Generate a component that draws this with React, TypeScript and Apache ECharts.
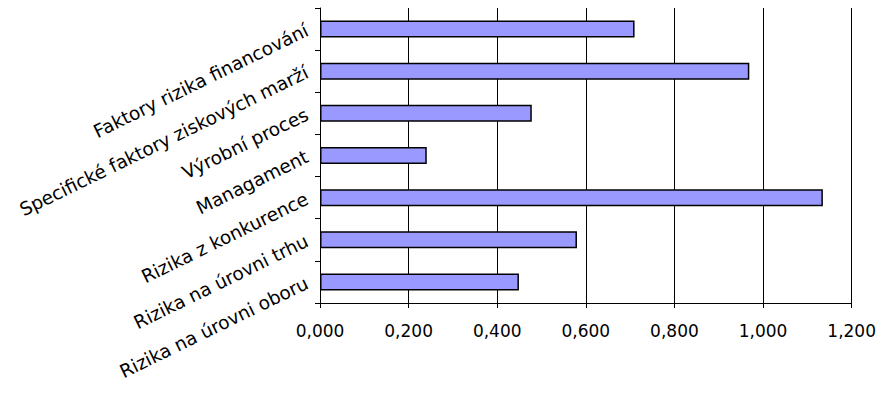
import React, { useEffect, useRef } from "react";
import * as echarts from "echarts";

// Risk categories, listed from the bottom of the axis upwards
const categories: string[] = [
  "Rizika na úrovni oboru",
  "Rizika na úrovni trhu",
  "Rizika z konkurence",
  "Managament",
  "Výrobní proces",
  "Specifické faktory ziskových marží",
  "Faktory rizika financování",
];

// Weighted risk score for each category
const values: number[] = [0.449, 0.58, 1.135, 0.241, 0.478, 0.969, 0.71];

// Value axis range
const axisMin = 0;
const axisMax = 1.2;
const axisStep = 0.2;

const fmt = (v: number) => v.toFixed(3).replace(".", ",");

export default function App() {
  const ref = useRef<HTMLDivElement>(null);

  useEffect(() => {
    if (!ref.current) return;
    const chart = echarts.init(ref.current, null, { renderer: "svg" });
    chart.setOption({
      animation: false,
      backgroundColor: "#ffffff",
      textStyle: { fontFamily: "DejaVu Sans, sans-serif" },
      grid: {
        left: 320,
        right: 27,
        top: 8,
        bottom: 93,
        containLabel: false,
      },
      xAxis: {
        type: "value",
        min: axisMin,
        max: axisMax,
        interval: axisStep,
        axisLine: { show: true, lineStyle: { color: "#000", width: 1 } },
        axisTick: { show: true, length: 5, lineStyle: { color: "#000" } },
        splitLine: { show: true, lineStyle: { color: "#000", width: 1 } },
        axisLabel: {
          formatter: (v: number) => fmt(v),
          color: "#000",
          fontSize: 17,
          margin: 19,
          showMinLabel: true,
          showMaxLabel: true,
        },
      },
      yAxis: {
        type: "category",
        data: categories,
        axisLine: { show: true, lineStyle: { color: "#000", width: 1 } },
        axisTick: { show: true, length: 5, lineStyle: { color: "#000" } },
        splitLine: { show: false },
        axisLabel: {
          interval: 0,
          rotate: 26,
          align: "right",
          verticalAlign: "middle",
          padding: [8, 0, 0, 0],
          margin: 13,
          color: "#000",
          fontSize: 18.5,
        },
      },
      series: [
        {
          type: "bar",
          data: values,
          barWidth: 17,
          itemStyle: {
            color: "#9999ff",
            borderColor: "#000",
            borderWidth: 1.5,
          },
        },
      ],
    });
    return () => chart.dispose();
  }, []);

  return (
    <div
      ref={ref}
      style={{ position: "absolute", left: 0, top: 0, width: 879, height: 396 }}
    />
  );
}
